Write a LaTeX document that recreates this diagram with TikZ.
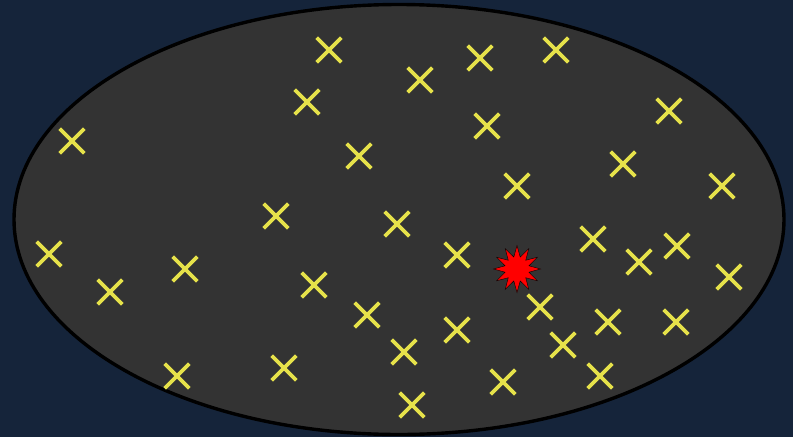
\documentclass[tikz,border=0pt]{standalone}
\usepackage{tikz}
\usetikzlibrary{shapes.geometric, shapes.misc}

\definecolor{navybg}{HTML}{15243A}
\definecolor{fieldgray}{HTML}{333333}
\definecolor{markyellow}{HTML}{E6E24A}

\begin{document}
\begin{tikzpicture}[
  x=1pt, y=-1pt,
  field/.style={draw=black, line width=3.4pt, fill=fieldgray, ellipse,
    minimum width=770pt, minimum height=430pt, inner sep=0pt},
  cross/.style={cross out, draw=markyellow, line width=3.6pt,
    minimum size=21pt, inner sep=0pt},
  blast/.style={star, star points=12, star point ratio=1.9, draw=black,
    fill=red, thin, minimum size=47pt, inner sep=0pt}
]
\fill[navybg] (0,0) rectangle (793,437);
\useasboundingbox (0,0) rectangle (793,437);
\node[field] (space) at (399,219.5) {};

% measured points
\foreach \px/\py [count=\i] in {329/50, 420/80, 480/58, 556/50, 307/102, 669/111,
  72/141, 487/126, 359/156, 623/164, 722/186, 517/186, 276/216, 397/224,
  593/239, 677/246, 49/254, 457/255, 639/262, 185/269, 729/277, 110/292,
  314/285, 540/307, 367/315, 608/322, 676/322, 457/330, 563/345, 404/352,
  177/376, 284/368, 600/376, 503/382, 412/405}
  \node[cross] (x\i) at (\px,\py) {};

\node[blast] (hit) at (517,269) {};
\end{tikzpicture}
\end{document}
